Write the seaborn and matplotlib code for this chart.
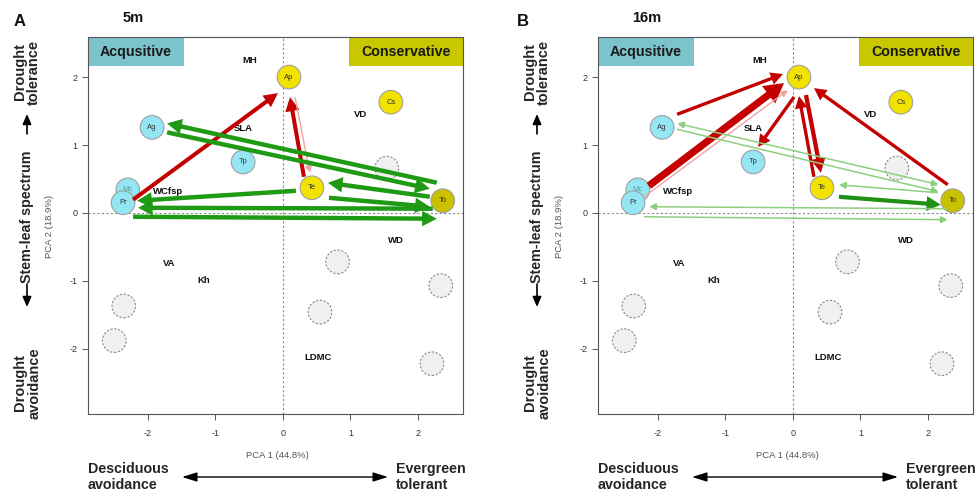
import numpy as np
import pandas as pd
import matplotlib
matplotlib.use("Agg")
import matplotlib.pyplot as plt
import seaborn as sns
from matplotlib.patches import FancyArrowPatch, Rectangle, ArrowStyle

sns.set_theme(style="white")
plt.rcParams["font.family"] = ["Liberation Sans", "DejaVu Sans"]

# ---------------------------------------------------------------- data
# species scores on PCA 1 / PCA 2
species = ["Ap", "Cs", "Ag", "Tp", "Te", "To", "Mc", "Pr",
           "", "", "", "", "", "", ""]
pc1 = [0.09, 1.60, -1.94, -0.59, 0.43, 2.37, -2.30, -2.37,
       1.54, 0.81, 2.34, 0.55, -2.36, -2.50, 2.21]
pc2 = [2.00, 1.63, 1.26, 0.75, 0.37, 0.18, 0.34, 0.15,
       0.66, -0.72, -1.07, -1.46, -1.37, -1.88, -2.22]
strategy = ["intermediate", "intermediate", "acquisitive", "acquisitive",
            "intermediate", "conservative", "acquisitive", "acquisitive",
            "unassigned", "unassigned", "unassigned", "unassigned",
            "unassigned", "unassigned", "unassigned"]

# trait loadings (label positions)
traits = ["MH", "VD", "SLA", "WCfsp", "WD", "VA", "Kh", "LDMC"]
trait_pc1 = [-0.49, 1.15, -0.59, -1.70, 1.67, -1.69, -1.18, 0.52]
trait_pc2 = [2.24, 1.45, 1.24, 0.31, -0.41, -0.75, -0.99, -2.13]

# shifts in strategy between species pairs: (from, to, kind)
shifts_5m = [("Pr", "Ap", "red"), ("Te", "Ap", "red"), ("Ap", "Te", "red_thin"),
             ("To", "Ag", "green"), ("Ag", "To", "green"),
             ("To", "Te", "green"), ("Te", "To", "green"),
             ("Te", "Pr", "green"), ("To", "Pr", "green"), ("Pr", "To", "green")]
shifts_16m = [("Ag", "Ap", "red16"), ("Mc", "Ap", "red_bold"), ("Pr", "Ap", "red_thin"),
              ("Ap", "Tp", "red16"), ("Te", "Ap", "red16"), ("Ap", "Te", "red16b"),
              ("To", "Ap", "red16"), ("To", "Ag", "green_thin2"), ("Ag", "To", "green_thin"),
              ("To", "Te", "green_thin"), ("Te", "To", "green16"),
              ("To", "Pr", "green_thin"), ("Pr", "To", "green_thin")]

# ---------------------------------------------------------------- layout
W, H = 978, 493
# pixel nudges of arrow ends away from circle centres (dx, dy-up)
ends_5m = [((10, 3), (-11, -16)), ((-8, 11), (1, -20)), ((6, -20), (-2, 15)),
           ((-6, 18), (15, 4)), ((15, -5), (-13, 12)),
           ((-13, 4), (16, 5)), ((17, -10), (-13, -6)),
           ((-16, -3), (14, 2)), ((-10, -8), (15, -5)), ((10, -14), (-6, -18))]
ends_16m = [((15, 13), (-16, 3)), ((11, 4), (-15, -6)), ((11, 6), (-11, -13)),
            ((-5, -20), (5, 15)), ((-8, 11), (0, -19)), ((7, -18), (-1, 15)),
            ((-5, 16), (15, -11)), ((-14, 16), (15, 4)), ((15, -2), (-14, 9)),
            ((-15, 8), (17, 3)), ((17, -9), (-12, -4)),
            ((-7, -8), (16, -4)), ((11, -14), (-5, -19))]

arrow_kinds = {
    "red":         dict(color="#c40000", lw=2.9, hl=5.5, hw=2.8, style="-|>"),
    "red16":       dict(color="#c40000", lw=2.4, hl=5.0, hw=2.6, style="-|>"),
    "red16b":      dict(color="#c40000", lw=3.1, hl=5.5, hw=2.8, style="-|>"),
    "red_bold":    dict(color="#c40000", lw=5.2, hl=6.0, hw=3.4, style="-|>"),
    "red_thin":    dict(color="#f2a2a2", lw=1.0, hl=4.0, hw=2.0, style="-|>"),
    "green":       dict(color="#1f9a14", lw=3.2, hl=5.5, hw=2.9, style="-|>"),
    "green16":     dict(color="#1f9014", lw=3.0, hl=5.5, hw=2.9, style="-|>"),
    "green_thin":  dict(color="#8ccf7e", lw=1.1, hl=4.0, hw=2.0, style="-|>"),
    "green_thin2": dict(color="#8ccf7e", lw=1.1, hl=4.0, hw=2.0, style="<|-|>"),
}

fills = {"acquisitive": "#93e6f2", "intermediate": "#f2e200",
         "conservative": "#c9c000", "unassigned": "#f0f0f0"}

df = pd.DataFrame({"species": species, "PC1": pc1, "PC2": pc2, "strategy": strategy})
positions = {s: (x, y) for s, x, y in zip(species, pc1, pc2) if s}

fig = plt.figure(figsize=(W / 100, H / 100), dpi=100)


def fx(px):
    return px / W


def fy(py):
    return 1 - py / H


def draw_panel(off, letter, letter_x, title, title_x, shifts, ends):
    ax = fig.add_axes([fx(88 + off), fy(414), 375 / W, 377 / H])
    ax.set_xlim(-2.89, 2.67)
    ax.set_ylim(-2.96, 2.59)
    ax.set_facecolor("white")
    for sp in ax.spines.values():
        sp.set_visible(True)
        sp.set_color("#555555")
        sp.set_linewidth(0.8)
    ax.set_xticks([-2, -1, 0, 1, 2])
    ax.set_yticks([-2, -1, 0, 1, 2])
    ax.set_xticklabels(["-2", "-1", "0", "1", "2"])
    ax.set_yticklabels(["-2", "-1", "0", "1", "2"])
    ax.tick_params(axis="both", length=4, width=0.7, color="#555555",
                   labelsize=6.5, labelcolor="#333333", direction="out")
    ax.tick_params(axis="x", pad=7, bottom=True)
    ax.tick_params(axis="y", pad=3.5, left=True)
    ax.set_xlabel("")
    ax.set_ylabel("")

    ax.axhline(0, color="#8c8c8c", lw=0.8, ls=(0, (2, 2)), zorder=1)
    ax.axvline(0, color="#8c8c8c", lw=0.8, ls=(0, (2, 2)), zorder=1)

    # strategy header boxes
    ax.add_patch(Rectangle((0, 0.923), 0.256, 0.077, transform=ax.transAxes,
                           facecolor="#7cc4cc", edgecolor="none", zorder=2, clip_on=False))
    ax.text(0.128, 0.9615, "Acqusitive", transform=ax.transAxes, ha="center", va="center",
            fontsize=10.3, fontweight="bold", color="#1a1a1a", zorder=3)
    ax.add_patch(Rectangle((0.696, 0.923), 0.304, 0.077, transform=ax.transAxes,
                           facecolor="#c9c700", edgecolor="none", zorder=2, clip_on=False))
    ax.text(0.848, 0.9615, "Conservative", transform=ax.transAxes, ha="center", va="center",
            fontsize=10.3, fontweight="bold", color="#1a1a1a", zorder=3)

    # species circles
    grey = df[df["strategy"] == "unassigned"]
    coloured = df[df["strategy"] != "unassigned"]
    sns.scatterplot(data=grey, x="PC1", y="PC2", hue="strategy", palette=fills,
                    s=290, edgecolor="#8a8a8a", linewidth=0.8, linestyle=(0, (2, 1.5)),
                    legend=False, ax=ax, zorder=3)
    sns.scatterplot(data=coloured, x="PC1", y="PC2", hue="strategy", palette=fills,
                    s=290, edgecolor="#a0a0a0", linewidth=0.8,
                    legend=False, ax=ax, zorder=3)
    ax.set_xlabel("")
    ax.set_ylabel("")
    for s, x, y in zip(species, pc1, pc2):
        if s:
            col = "#5f9aa3" if s == "Mc" else "#333333"
            ax.text(x, y, s, ha="center", va="center", fontsize=5.5, color=col, zorder=4)

    # trait labels
    for t, x, y in zip(traits, trait_pc1, trait_pc2):
        ax.text(x, y, t, ha="center", va="center", fontsize=6.8, fontweight="bold",
                color="#111111", zorder=4)

    # strategy shifts
    inv = ax.transData.inverted()
    for (src, dst, kind), (o0, o1) in zip(shifts, ends):
        st = arrow_kinds[kind]
        p0 = inv.transform(ax.transData.transform(positions[src]) + np.asarray(o0))
        p1 = inv.transform(ax.transData.transform(positions[dst]) + np.asarray(o1))
        style = ArrowStyle(st["style"], head_length=st["hl"], head_width=st["hw"])
        ax.add_patch(FancyArrowPatch(tuple(p0), tuple(p1), arrowstyle=style, mutation_scale=1,
                                     color=st["color"], lw=st["lw"], shrinkA=0, shrinkB=0,
                                     capstyle="butt", joinstyle="miter", zorder=5))

    # panel letter and depth
    fig.text(fx(letter_x), fy(22), letter, ha="center", va="center",
             fontsize=12, fontweight="bold", color="#111111")
    fig.text(fx(title_x), fy(18), title, ha="center", va="center",
             fontsize=10.5, fontweight="bold", color="#111111")

    # vertical spectrum description
    cx = fx(27 + off)
    fig.text(cx, fy(72), "Drought\ntolerance", rotation=90, ha="center", va="center",
             multialignment="center", fontsize=10.5, fontweight="bold", linespacing=1.05)
    fig.text(cx, fy(217), "Stem-leaf spectrum", rotation=90, ha="center", va="center",
             fontsize=10.3, fontweight="bold")
    fig.text(cx, fy(383), "Drought\navoidance", rotation=90, ha="center", va="center",
             multialignment="center", fontsize=10.5, fontweight="bold", linespacing=1.05)
    v_style = ArrowStyle("-|>", head_length=6, head_width=2.6)
    fig.patches.append(FancyArrowPatch((cx, fy(134)), (cx, fy(114)), transform=fig.transFigure,
                                       arrowstyle=v_style, mutation_scale=1, color="black",
                                       lw=1.2, shrinkA=0, shrinkB=0))
    fig.patches.append(FancyArrowPatch((cx, fy(284)), (cx, fy(307)), transform=fig.transFigure,
                                       arrowstyle=v_style, mutation_scale=1, color="black",
                                       lw=1.2, shrinkA=0, shrinkB=0))
    fig.text(fx(50 + off), fy(226), "PCA 2 (18.9%)", rotation=90, ha="center", va="center",
             fontsize=6.8, color="#555555")

    # horizontal spectrum description
    fig.text(fx(277 + off), fy(456), "PCA 1 (44.8%)", ha="center", va="center",
             fontsize=6.8, color="#555555")
    fig.text(fx(88 + off), fy(477), "Desciduous\navoidance", ha="left", va="center",
             fontsize=10.3, fontweight="bold", linespacing=1.1)
    fig.text(fx(396 + off), fy(477), "Evergreen\ntolerant", ha="left", va="center",
             fontsize=10.3, fontweight="bold", linespacing=1.1)
    h_style = ArrowStyle("<|-|>", head_length=9, head_width=2.8)
    fig.patches.append(FancyArrowPatch((fx(182 + off), fy(477)), (fx(388 + off), fy(477)),
                                       transform=fig.transFigure, arrowstyle=h_style,
                                       mutation_scale=1, color="black", lw=1.0,
                                       shrinkA=0, shrinkB=0))
    return ax


draw_panel(0, "A", 20, "5m", 133, shifts_5m, ends_5m)
draw_panel(510, "B", 523, "16m", 647, shifts_16m, ends_16m)

fig.savefig("out.png", dpi=100, facecolor="white")
